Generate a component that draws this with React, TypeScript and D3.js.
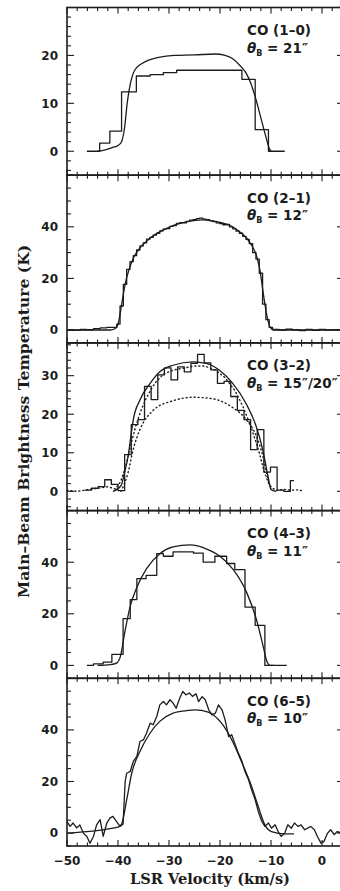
import React from "react";
import * as d3 from "d3";

// ---------- axes / panels ----------
const xMajorTicks = [-50, -40, -30, -20, -10, 0];
const xTickLabels = ["−50", "−40", "−30", "−20", "−10", "0"];
const lineLabels = ["CO (1–0)", "CO (2–1)", "CO (3–2)", "CO (4–3)", "CO (6–5)"];
const beamLabels = ["21″", "12″", "15″/20″", "11″", "10″"];
const yMins = [-5, -5, -5, -5, -5];
const yMaxes = [30, 60, 38.5, 60, 60];
const yMajorSteps = [10, 20, 10, 20, 20];
const yMinorSteps = [2, 5, 2, 5, 5];

// ---------- CO (1-0) ----------
const co10HistV = [-46.1, -43.6, -41.6, -39.3, -36.4, -33.7, -31.1, -28.5, -15.7, -13.1, -10.5, -7.3];
const co10HistT = [0, 1.7, 4.2, 12.4, 15.7, 16.0, 16.4, 16.9, 15.0, 4.5, 0, 0];
const co10ModelV = [-44, -42.5, -41, -40, -39.3, -38.7, -38.2, -37.6, -37, -36.3, -35.3, -34, -32, -29, -25, -21, -19, -17.5, -16, -15, -14, -13, -12, -11, -10.3, -10];
const co10ModelT = [0, 0.3, 0.8, 1.2, 2.0, 5.0, 10.0, 14.0, 16.3, 17.5, 18.3, 19.0, 19.6, 20.0, 20.1, 20.3, 20.0, 19.3, 17.8, 16.5, 14.3, 11.0, 7.0, 3.0, 0.5, 0];

// ---------- CO (2-1) ----------
const co21HistV = [-50, -48.7, -47.4, -46.1, -44.8, -43.5, -42.2, -40.9, -40.25, -39.6, -38.95, -38.3, -37.65, -37.0, -36.35, -35.7, -35.05, -34.4, -33.75, -33.1, -32.45, -31.8, -31.15, -30.5, -29.85, -29.2, -28.55, -27.9, -27.25, -26.6, -25.95, -25.3, -24.65, -24.0, -23.35, -22.7, -22.05, -21.4, -20.75, -20.1, -19.45, -18.8, -18.15, -17.5, -16.85, -16.2, -15.55, -14.9, -14.25, -13.6, -12.95, -12.3, -11.65, -11.0, -10.35, -9.7, -8.4, -7.1, -5.8, -4.5, -3.2, -1.9, -0.6, 0.7, 2.0, 3.3, 4.4];
const co21HistT = [0.1, -0.1, 0.2, 0.1, 0.5, 0.8, 1.0, 1.0, 2.3, 9.3, 17.7, 23.5, 26.5, 28.8, 31.0, 32.6, 33.8, 35.2, 35.9, 36.8, 37.5, 38.4, 39.1, 39.3, 40.2, 40.5, 41.3, 41.6, 41.5, 42.1, 42.6, 42.8, 43.2, 43.4, 43.0, 42.8, 42.3, 42.0, 41.5, 41.2, 40.8, 40.9, 40.0, 39.2, 38.3, 37.5, 36.3, 35.1, 33.5, 30.0, 27.5, 22.0, 10.0, 4.0, 1.0, 0.2, 0.0, 0.3, 0.1, -0.2, 0.2, -0.1, 0.2, 0.0, 0.1, 0.0, 0.0];
const co21ModelV = [-50, -41.5, -40.8, -40.3, -39.9, -39.4, -38.9, -38.4, -37.9, -37.0, -35.7, -33.7, -31.1, -28.5, -25.2, -23.5, -22.6, -20.6, -18.0, -16.1, -14.1, -12.8, -12.2, -11.5, -10.8, -10.2, -9.5, 4.4];
const co21ModelT = [0, 0, 0.3, 1.0, 3.0, 8.5, 14.5, 19.5, 23.0, 27.8, 31.8, 35.6, 38.8, 40.9, 42.4, 42.7, 42.6, 42.0, 40.5, 38.0, 33.8, 28.5, 23.5, 14.0, 5.5, 1.2, 0, 0];

// ---------- CO (3-2) ----------
const co32HistV = [-46.5, -45.2, -43.9, -42.6, -41.3, -40.0, -38.7, -37.4, -36.1, -34.8, -33.5, -32.2, -30.9, -29.6, -28.3, -27.0, -25.7, -24.4, -23.1, -21.8, -20.5, -19.2, -17.9, -16.6, -15.3, -14.0, -12.7, -11.4, -10.1, -8.8, -7.5, -6.2, -5.5];
const co32HistT = [0.3, 0.8, 1.2, 3.0, 1.8, 0.2, 9.5, 17.3, 18.6, 27.2, 23.8, 30.2, 32.0, 28.9, 32.3, 31.0, 33.2, 35.5, 33.3, 31.5, 28.0, 28.5, 24.6, 21.0, 18.6, 10.8, 16.0, 5.0, 6.3, 0.3, 0.0, 2.8, 2.8];
const co32ModelV = [-41, -39.4, -38.7, -38.0, -37.5, -37.0, -35.7, -33.7, -31.8, -29.2, -25.3, -22.7, -20.1, -17.5, -14.9, -12.9, -11.6, -10.6, -10.0, -9.0];
const co32ModelT = [0, 1.5, 5.0, 9.2, 14.0, 18.6, 23.7, 28.0, 31.0, 32.7, 33.6, 33.2, 31.4, 28.0, 22.8, 16.8, 10.7, 4.0, 0.5, 0];
const co32LargeBeamV = [-50, -48, -46, -44, -42, -40.5, -39.5, -38.5, -37.5, -36.5, -35.5, -34.5, -33.5, -32.5, -31, -29, -27, -25, -23, -21, -19, -17, -15.5, -14, -12.5, -11.3, -10.3, -9, -7.5, -6, -4.5, -3.7];
const co32LargeBeamT = [0.3, 0, 0.4, 0.8, 1.2, 0.6, 2.5, 6.5, 12, 17, 21, 24, 26.5, 28.5, 30.5, 31.5, 32, 32.5, 32.5, 31.5, 29.5, 26, 22, 17, 11, 5, 1.5, 0.2, 0.5, 0.3, 0.4, 0];
const co32LargeModelV = [-39.4, -38.0, -37.0, -35.7, -33.1, -29.2, -25.3, -21.4, -17.5, -14.9, -12.9, -11.6, -10.6, -10.0];
const co32LargeModelT = [0, 5, 11, 16, 21, 23.5, 24.4, 24, 21.7, 18.7, 14.4, 9.2, 3.2, 0.5];

// ---------- CO (4-3) ----------
const co43HistV = [-46.1, -44.8, -42.9, -41.2, -39.0, -37.6, -36.3, -34.5, -32.4, -31.1, -29.2, -25.2, -23.3, -21.0, -18.7, -17.1, -15.1, -13.1, -11.2, -6.9];
const co43HistT = [0, 0.6, 1.3, 4.3, 18.1, 25.5, 33.6, 34.9, 43.3, 42.3, 44.0, 43.5, 40.0, 42.3, 39.5, 37.1, 22.6, 15.5, 0, 0];
const co43ModelV = [-44, -41.5, -40.2, -39.6, -38.6, -37.65, -36.3, -34.4, -31.8, -29.2, -25.9, -22.6, -20.0, -17.4, -14.8, -12.8, -11.5, -10.8, -10.2, -9.5];
const co43ModelT = [0, 0.3, 1.0, 3.0, 13.6, 22.6, 30.3, 37.5, 43.3, 45.9, 46.7, 45.1, 42.3, 37.1, 28.4, 17.4, 7.1, 1.5, 0, 0];

// ---------- CO (6-5) ----------
const co65V = [-50, -49.4, -48.8, -48.1, -47.5, -46.8, -46.1, -45.5, -44.8, -44.2, -43.5, -42.9, -42.2, -41.6, -41.0, -40.3, -39.6, -39.0, -38.6, -38.3, -37.6, -37.0, -36.3, -35.7, -35.0, -34.4, -33.7, -33.1, -32.4, -31.8, -31.1, -30.5, -29.8, -29.2, -28.6, -27.9, -27.3, -26.7, -26.0, -25.4, -24.7, -24.2, -23.5, -22.9, -22.2, -21.6, -20.9, -20.3, -19.6, -19.0, -18.3, -17.7, -17.0, -16.4, -15.7, -15.1, -14.4, -13.8, -13.1, -12.5, -11.8, -11.2, -10.5, -9.9, -9.2, -8.6, -8.0, -7.3, -6.7, -6.0, -5.4, -4.7, -4.1, -3.4, -2.8, -2.2, -1.5, -0.9, -0.2, 0.4, 1.1, 1.7, 2.4, 3.0, 3.6, 4.4];
const co65T = [4.5, 2.6, 3.9, 2.0, 3.2, 0, -1.3, -3.9, -1.3, 3.2, 5.2, -1.3, 3.9, 5.8, 6.5, 4.5, 2.6, 3.5, 20, 23.2, 23.9, 27.8, 29.7, 35.5, 36.2, 38.8, 42.6, 42.0, 45.2, 49.7, 51.0, 49.7, 51.7, 50.4, 48.4, 52.3, 54.9, 53.6, 54.3, 53.0, 54.0, 51.0, 52.9, 51.7, 47.8, 45.8, 46.5, 49.7, 47.8, 43.9, 37.4, 38.1, 34.2, 31, 27.8, 23.9, 20.7, 16.8, 12.9, 8.4, 4.5, 2.6, 3.9, 1.9, 3.2, 0.6, -1.3, 0, 3.2, 1.9, 3.9, 2.6, 3.2, 1.3, 1.9, 2.6, 1.3, -1.3, -3.9, -3.2, 0, 1.3, -0.6, 0.6, 0.2, 1.0];
const co65ModelV = [-50, -40, -39.3, -38.3, -37.3, -35.7, -33.7, -31.8, -29.2, -26.5, -24.9, -22.3, -19.7, -17.7, -15.8, -13.8, -12.5, -11.2, -9.9, -7.3, -5.5];
const co65ModelT = [0, 2.3, 3.5, 12.9, 23.3, 31.6, 38.8, 43.3, 46.5, 47.5, 47.8, 46.9, 42.6, 36.2, 27.8, 18.1, 10.3, 3.2, 0.6, -0.3, -0.3];

type Series = { v: number[]; t: number[]; kind: "step" | "smooth" | "linear"; dotted?: boolean };

const panelSeries: Series[][] = [
  [
    { v: co10HistV, t: co10HistT, kind: "step" },
    { v: co10ModelV, t: co10ModelT, kind: "smooth" },
  ],
  [
    { v: co21HistV, t: co21HistT, kind: "step" },
    { v: co21ModelV, t: co21ModelT, kind: "smooth" },
  ],
  [
    { v: co32LargeModelV, t: co32LargeModelT, kind: "smooth", dotted: true },
    { v: co32LargeBeamV, t: co32LargeBeamT, kind: "linear", dotted: true },
    { v: co32HistV, t: co32HistT, kind: "step" },
    { v: co32ModelV, t: co32ModelT, kind: "smooth" },
  ],
  [
    { v: co43HistV, t: co43HistT, kind: "step" },
    { v: co43ModelV, t: co43ModelT, kind: "smooth" },
  ],
  [
    { v: co65V, t: co65T, kind: "linear" },
    { v: co65ModelV, t: co65ModelT, kind: "smooth" },
  ],
];

const INK = "#1c1c1c";
const SANS = "'DejaVu Sans', sans-serif";
const SERIF = "'DejaVu Serif', serif";

export default function App() {
  const W = 340;
  const H = 891;
  const left = 67;
  const right = 344;
  const top = 7.5;
  const panelH = 167.7;

  const x = d3.scaleLinear().domain([-50, 0]).range([67, 322]);
  const xMinor = d3.range(-50, 4.5, 2);

  return (
    <svg
      width={W}
      height={H}
      style={{ position: "absolute", left: 0, top: 0, background: "#fff" }}
    >
      <rect x={0} y={0} width={W} height={H} fill="#fff" />
      {panelSeries.map((series, i) => {
        const y0 = top + i * panelH;
        const y1 = y0 + panelH;
        const y = d3.scaleLinear().domain([yMins[i], yMaxes[i]]).range([y1, y0]);
        const minorY = d3.range(Math.ceil(yMins[i] / yMinorSteps[i]) * yMinorSteps[i], yMaxes[i] + 1e-6, yMinorSteps[i]);
        const majorY = d3.range(0, yMaxes[i] + 1e-6, yMajorSteps[i]);
        const labelY = majorY.filter((v) => v < yMaxes[i] - 1);
        const clipId = `clip${i}`;
        return (
          <g key={i}>
            <defs>
              <clipPath id={clipId}>
                <rect x={left} y={y0} width={right - left} height={panelH} />
              </clipPath>
            </defs>
            <g clipPath={`url(#${clipId})`}>
              {series.map((s, j) => {
                const pts = d3.zip(s.v, s.t) as [number, number][];
                const curve =
                  s.kind === "step" ? d3.curveStepAfter : s.kind === "smooth" ? d3.curveMonotoneX : d3.curveLinear;
                const gen = d3
                  .line<[number, number]>()
                  .x((d) => x(d[0]))
                  .y((d) => y(d[1]))
                  .curve(curve);
                return (
                  <path
                    key={j}
                    d={gen(pts) || ""}
                    fill="none"
                    stroke={INK}
                    strokeWidth={s.dotted ? 1.4 : 1.3}
                    strokeDasharray={s.dotted ? "1,3" : undefined}
                    strokeLinecap={s.dotted ? "round" : "butt"}
                    strokeLinejoin="round"
                  />
                );
              })}
            </g>
            {xMinor.map((v) => {
              const major = v % 10 === 0;
              const len = major ? 6 : 3.5;
              return (
                <g key={`xt${v}`} stroke={INK} strokeWidth={1.1}>
                  <line x1={x(v)} x2={x(v)} y1={y1} y2={y1 - len} />
                  <line x1={x(v)} x2={x(v)} y1={y0} y2={y0 + len} />
                </g>
              );
            })}
            {minorY.map((v) => {
              const major = Math.abs(v % yMajorSteps[i]) < 1e-6;
              const len = major ? 7 : 4;
              return (
                <g key={`yt${v}`} stroke={INK} strokeWidth={1.1}>
                  <line x1={left} x2={left + len} y1={y(v)} y2={y(v)} />
                  <line x1={right} x2={right - len} y1={y(v)} y2={y(v)} />
                </g>
              );
            })}
            {labelY.map((v) => (
              <text
                key={`yl${v}`}
                x={58}
                y={y(v)}
                dy="0.36em"
                textAnchor="end"
                fontFamily={SANS}
                fontWeight="bold"
                fontSize={12}
                fill={INK}
              >
                {v}
              </text>
            ))}
            <rect x={left} y={y0} width={right - left} height={panelH} fill="none" stroke={INK} strokeWidth={1.6} />
            <text x={247} y={y0 + 27.5} fontFamily={SANS} fontWeight="bold" fontSize={13.5} fill={INK}>
              {lineLabels[i]}
            </text>
            <text x={247} y={y0 + 45} fontFamily={SANS} fontWeight="bold" fontSize={13.5} fill={INK}>
              <tspan fontStyle="italic">θ</tspan>
              <tspan fontSize={8} dy={3}>B</tspan>
              <tspan dy={-3}>{" = " + beamLabels[i]}</tspan>
            </text>
          </g>
        );
      })}
      {xMajorTicks.map((v, k) => (
        <text
          key={`xl${v}`}
          x={x(v)}
          y={865}
          textAnchor="middle"
          fontFamily={SANS}
          fontWeight="bold"
          fontSize={12}
          fill={INK}
        >
          {xTickLabels[k]}
        </text>
      ))}
      <text
        x={210}
        y={884}
        textAnchor="middle"
        fontFamily={SERIF}
        fontWeight="bold"
        fontSize={14}
        fill={INK}
        textLength={160}
        lengthAdjust="spacingAndGlyphs"
      >
        LSR Velocity (km/s)
      </text>
      <text
        transform={`translate(29,421.5) rotate(-90)`}
        x={0}
        y={0}
        textAnchor="middle"
        fontFamily={SERIF}
        fontWeight="bold"
        fontSize={14}
        fill={INK}
        textLength={353}
        lengthAdjust="spacingAndGlyphs"
      >
        Main–Beam Brightness Temperature (K)
      </text>
    </svg>
  );
}
